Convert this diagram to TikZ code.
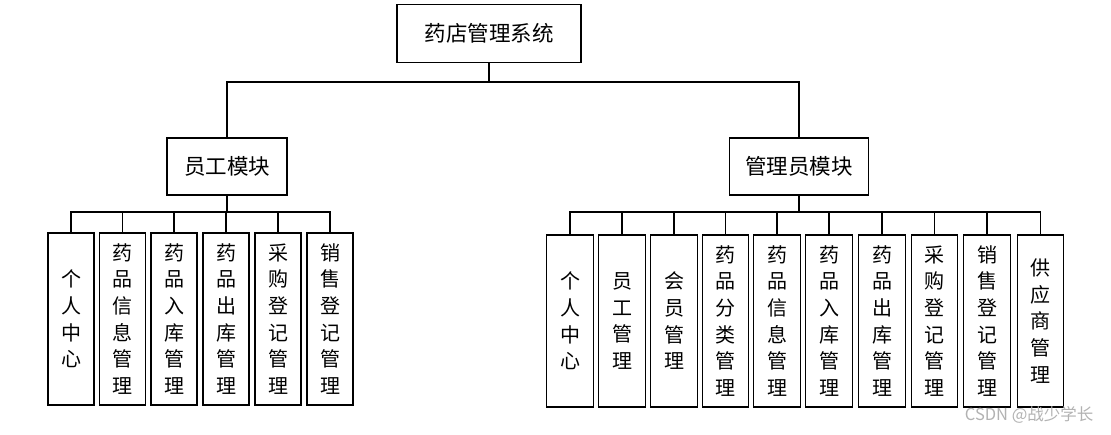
\documentclass[tikz,border=0pt]{standalone}
\usepackage{fontspec}
\setmainfont{Noto Sans CJK SC}
\begin{document}
\begin{tikzpicture}[x=1pt,y=-1pt,
  box/.style={draw, line width=1.4pt, inner sep=0pt, align=center},
  topbox/.style={box, font=\fontsize{21.5}{26}\selectfont},
  leaf/.style={box, minimum width=46pt, minimum height=172pt, font=\fontsize{20}{26.7}\selectfont},
  conn/.style={line width=1.4pt},
  wmark/.style={text=gray!60, font=\fontsize{16.5}{19}\selectfont}]
\useasboundingbox (0,0) rectangle (1111,434);
% root
\node[topbox, minimum width=184pt, minimum height=58pt] (root) at (489,33.5) {药店管理系统};
% modules
\node[topbox, minimum width=120pt, minimum height=57pt] (m1) at (227,166.5) {员工模块};
\node[topbox, minimum width=139pt, minimum height=57pt] (m2) at (799,166.5) {管理员模块};
\coordinate (b0) at (489,82);
\draw[conn] (root.south) -- (b0);
\draw[conn] (m1.north) |- (b0) -| (m2.north);
% left leaves
\node[leaf] (l1) at (71,319) {个\\人\\中\\心};
\node[leaf] (l2) at (122.5,319) {药\\品\\信\\息\\管\\理};
\node[leaf] (l3) at (174,319) {药\\品\\入\\库\\管\\理};
\node[leaf] (l4) at (226,319) {药\\品\\出\\库\\管\\理};
\node[leaf] (l5) at (278,319) {采\\购\\登\\记\\管\\理};
\node[leaf] (l6) at (330,319) {销\\售\\登\\记\\管\\理};
\coordinate (b1) at (227,212);
\draw[conn] (m1.south) -- (b1);
\draw[conn] (l1.north) |- (b1) -| (l6.north);
\foreach \n in {l2,l3,l4,l5} \draw[conn] (\n.north) -- (\n.north |- b1);
% right leaves
\node[leaf, minimum width=46.5pt] (r1) at (570,321) {个\\人\\中\\心};
\node[leaf, minimum width=46.5pt] (r2) at (622,321) {员\\工\\管\\理};
\node[leaf, minimum width=46.5pt] (r3) at (674,321) {会\\员\\管\\理};
\node[leaf, minimum width=46.5pt] (r4) at (725.5,321) {药\\品\\分\\类\\管\\理};
\node[leaf, minimum width=46.5pt] (r5) at (777,321) {药\\品\\信\\息\\管\\理};
\node[leaf, minimum width=46.5pt] (r6) at (829,321) {药\\品\\入\\库\\管\\理};
\node[leaf, minimum width=46.5pt] (r7) at (882,321) {药\\品\\出\\库\\管\\理};
\node[leaf, minimum width=46.5pt] (r8) at (934.5,321) {采\\购\\登\\记\\管\\理};
\node[leaf, minimum width=46.5pt] (r9) at (987,321) {销\\售\\登\\记\\管\\理};
\node[leaf, minimum width=46.5pt] (r10) at (1040.5,321) {供\\应\\商\\管\\理};
\coordinate (b2) at (799,212);
\draw[conn] (m2.south) -- (b2);
\draw[conn] (r1.north) |- (b2) -| (r10.north);
\foreach \n in {r2,r3,r4,r5,r6,r7,r8,r9} \draw[conn] (\n.north) -- (\n.north |- b2);
% watermark
\node[wmark, anchor=east] (wm) at (1097,415) {CSDN @战少学长};
\end{tikzpicture}
\end{document}
